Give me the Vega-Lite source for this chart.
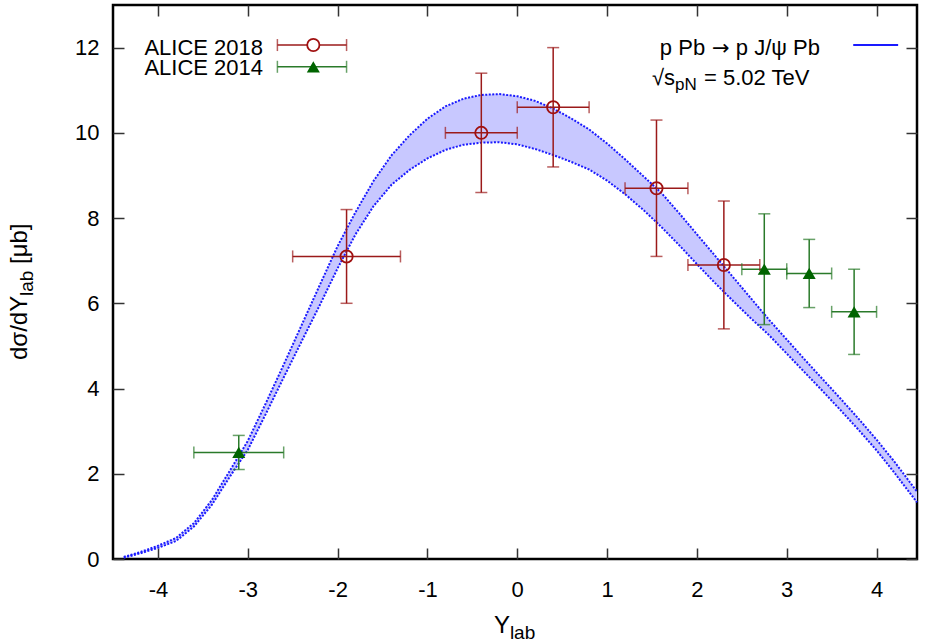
{
  "$schema": "https://vega.github.io/schema/vega-lite/v6.json",
  "width": 804,
  "height": 554,
  "autosize": "none",
  "padding": {"left": 113, "top": 5, "right": 8, "bottom": 85},
  "background": "white",
  "config": {
    "view": {"stroke": "black", "strokeWidth": 2.5},
    "font": "Liberation Sans",
    "text": {"font": "Liberation Sans", "color": "black"}
  },
  "datasets": {
    "band": [
      {"x": -4.38, "lo": 0.03, "hi": 0.05},
      {"x": -4.2, "lo": 0.13, "hi": 0.16},
      {"x": -4.0, "lo": 0.26, "hi": 0.31},
      {"x": -3.8, "lo": 0.42, "hi": 0.49},
      {"x": -3.6, "lo": 0.76, "hi": 0.84},
      {"x": -3.4, "lo": 1.27, "hi": 1.38},
      {"x": -3.2, "lo": 1.93, "hi": 2.07},
      {"x": -3.0, "lo": 2.56, "hi": 2.77},
      {"x": -2.8, "lo": 3.40, "hi": 3.65},
      {"x": -2.6, "lo": 4.26, "hi": 4.56},
      {"x": -2.4, "lo": 5.11, "hi": 5.49},
      {"x": -2.2, "lo": 5.95, "hi": 6.42},
      {"x": -2.0, "lo": 6.82, "hi": 7.34},
      {"x": -1.8, "lo": 7.62, "hi": 8.14},
      {"x": -1.6, "lo": 8.28, "hi": 8.87},
      {"x": -1.4, "lo": 8.78, "hi": 9.47},
      {"x": -1.2, "lo": 9.13, "hi": 9.94},
      {"x": -1.0, "lo": 9.40, "hi": 10.33},
      {"x": -0.8, "lo": 9.60, "hi": 10.62},
      {"x": -0.6, "lo": 9.72, "hi": 10.80},
      {"x": -0.4, "lo": 9.77, "hi": 10.89},
      {"x": -0.2, "lo": 9.78, "hi": 10.91},
      {"x": 0.0, "lo": 9.73, "hi": 10.86},
      {"x": 0.2, "lo": 9.62, "hi": 10.75},
      {"x": 0.4, "lo": 9.48, "hi": 10.57},
      {"x": 0.6, "lo": 9.32, "hi": 10.34},
      {"x": 0.8, "lo": 9.14, "hi": 10.08},
      {"x": 1.0, "lo": 8.88, "hi": 9.75},
      {"x": 1.2, "lo": 8.56, "hi": 9.38},
      {"x": 1.4, "lo": 8.20, "hi": 8.99},
      {"x": 1.6, "lo": 7.80, "hi": 8.60},
      {"x": 1.8, "lo": 7.37, "hi": 8.12},
      {"x": 2.0, "lo": 6.92, "hi": 7.62},
      {"x": 2.2, "lo": 6.48, "hi": 7.12},
      {"x": 2.4, "lo": 6.06, "hi": 6.62},
      {"x": 2.6, "lo": 5.65, "hi": 6.12},
      {"x": 2.8, "lo": 5.26, "hi": 5.62},
      {"x": 3.0, "lo": 4.82, "hi": 5.15},
      {"x": 3.2, "lo": 4.38, "hi": 4.68},
      {"x": 3.4, "lo": 3.94, "hi": 4.22},
      {"x": 3.6, "lo": 3.49, "hi": 3.76},
      {"x": 3.8, "lo": 3.03, "hi": 3.29},
      {"x": 4.0, "lo": 2.55, "hi": 2.80},
      {"x": 4.2, "lo": 2.02, "hi": 2.28},
      {"x": 4.45, "lo": 1.33, "hi": 1.58}
    ],
    "pts": [
      {"set": "ALICE 2018", "x": -1.9, "xlo": -2.5, "xhi": -1.3, "y": 7.1, "ylo": 6.0, "yhi": 8.2},
      {"set": "ALICE 2018", "x": -0.4, "xlo": -0.8, "xhi": 0.0, "y": 10.0, "ylo": 8.6, "yhi": 11.4},
      {"set": "ALICE 2018", "x": 0.4, "xlo": 0.0, "xhi": 0.8, "y": 10.6, "ylo": 9.2, "yhi": 12.0},
      {"set": "ALICE 2018", "x": 1.55, "xlo": 1.2, "xhi": 1.9, "y": 8.7, "ylo": 7.1, "yhi": 10.3},
      {"set": "ALICE 2018", "x": 2.3, "xlo": 1.9, "xhi": 2.7, "y": 6.9, "ylo": 5.4, "yhi": 8.4},
      {"set": "ALICE 2014", "x": -3.1, "xlo": -3.6, "xhi": -2.6, "y": 2.5, "ylo": 2.1, "yhi": 2.9},
      {"set": "ALICE 2014", "x": 2.75, "xlo": 2.5, "xhi": 3.0, "y": 6.8, "ylo": 5.5, "yhi": 8.1},
      {"set": "ALICE 2014", "x": 3.25, "xlo": 3.0, "xhi": 3.5, "y": 6.7, "ylo": 5.9, "yhi": 7.5},
      {"set": "ALICE 2014", "x": 3.75, "xlo": 3.5, "xhi": 4.0, "y": 5.8, "ylo": 4.8, "yhi": 6.8}
    ]
  },
  "resolve": {"axis": {"x": "independent", "y": "independent"}},
  "layer": [
    {
      "data": {"name": "band"},
      "mark": {"type": "area", "color": "#c8c8ff", "opacity": 1},
      "encoding": {
        "x": {"field": "x", "type": "quantitative",
          "scale": {"domain": [-4.5, 4.45], "nice": false, "zero": false},
          "axis": {"orient": "bottom", "title": null, "values": [-4, -3, -2, -1, 0, 1, 2, 3, 4],
            "domain": false, "grid": false, "tickSize": -11, "tickWidth": 1.5, "tickColor": "#333333",
            "labelPadding": 31, "labelFont": "Liberation Sans", "labelFontSize": 22, "labelColor": "black",
            "labelExpr": "datum.value + ''"}},
        "y": {"field": "lo", "type": "quantitative",
          "scale": {"domain": [0, 13], "nice": false, "zero": false},
          "axis": {"orient": "left", "title": null, "values": [0, 2, 4, 6, 8, 10, 12],
            "domain": false, "grid": false, "tickSize": -11, "tickWidth": 1.5, "tickColor": "#333333",
            "labelPadding": 25, "labelFont": "Liberation Sans", "labelFontSize": 22, "labelColor": "black"}},
        "y2": {"field": "hi"}
      }
    },
    {
      "data": {"name": "band"},
      "mark": {"type": "line", "color": "#1a1aff", "strokeWidth": 2, "strokeDash": [2, 1.5]},
      "encoding": {
        "x": {"field": "x", "type": "quantitative", "scale": {"domain": [-4.5, 4.45], "nice": false, "zero": false}, "axis": null},
        "y": {"field": "lo", "type": "quantitative", "scale": {"domain": [0, 13], "nice": false, "zero": false}, "axis": null}
      }
    },
    {
      "data": {"name": "band"},
      "mark": {"type": "line", "color": "#1a1aff", "strokeWidth": 2, "strokeDash": [2, 1.5]},
      "encoding": {
        "x": {"field": "x", "type": "quantitative",
          "scale": {"domain": [-4.5, 4.45], "nice": false, "zero": false},
          "axis": {"orient": "top", "title": null, "values": [-4, -3, -2, -1, 0, 1, 2, 3, 4],
            "domain": false, "grid": false, "labels": false, "tickSize": -11, "tickWidth": 1.5, "tickColor": "#333333"}},
        "y": {"field": "hi", "type": "quantitative",
          "scale": {"domain": [0, 13], "nice": false, "zero": false},
          "axis": {"orient": "right", "title": null, "values": [0, 2, 4, 6, 8, 10, 12],
            "domain": false, "grid": false, "labels": false, "tickSize": -11, "tickWidth": 1.5, "tickColor": "#333333"}}
      }
    },
    {
      "data": {"name": "pts"},
      "mark": {"type": "rule", "strokeWidth": 1.5},
      "encoding": {
        "x": {"field": "x", "type": "quantitative", "scale": {"domain": [-4.5, 4.45], "nice": false, "zero": false}, "axis": null},
        "y": {"field": "ylo", "type": "quantitative", "scale": {"domain": [0, 13], "nice": false, "zero": false}, "axis": null},
        "y2": {"field": "yhi"},
        "color": {"field": "set", "type": "nominal", "scale": {"domain": ["ALICE 2018", "ALICE 2014"], "range": ["#9b1a1a", "#2a7a2a"]}, "legend": null}
      }
    },
    {
      "data": {"name": "pts"},
      "mark": {"type": "rule", "strokeWidth": 1.5},
      "encoding": {
        "y": {"field": "y", "type": "quantitative", "scale": {"domain": [0, 13], "nice": false, "zero": false}, "axis": null},
        "x": {"field": "xlo", "type": "quantitative", "scale": {"domain": [-4.5, 4.45], "nice": false, "zero": false}, "axis": null},
        "x2": {"field": "xhi"},
        "color": {"field": "set", "type": "nominal", "scale": {"domain": ["ALICE 2018", "ALICE 2014"], "range": ["#9b1a1a", "#2a7a2a"]}, "legend": null}
      }
    },
    {
      "data": {"name": "pts"},
      "mark": {"type": "tick", "orient": "vertical", "size": 12, "thickness": 1.5},
      "encoding": {
        "x": {"field": "xlo", "type": "quantitative", "scale": {"domain": [-4.5, 4.45], "nice": false, "zero": false}, "axis": null},
        "y": {"field": "y", "type": "quantitative", "scale": {"domain": [0, 13], "nice": false, "zero": false}, "axis": null},
        "color": {"field": "set", "type": "nominal", "scale": {"domain": ["ALICE 2018", "ALICE 2014"], "range": ["#9b1a1a", "#2a7a2a"]}, "legend": null}
      }
    },
    {
      "data": {"name": "pts"},
      "mark": {"type": "tick", "orient": "vertical", "size": 12, "thickness": 1.5},
      "encoding": {
        "x": {"field": "xhi", "type": "quantitative", "scale": {"domain": [-4.5, 4.45], "nice": false, "zero": false}, "axis": null},
        "y": {"field": "y", "type": "quantitative", "scale": {"domain": [0, 13], "nice": false, "zero": false}, "axis": null},
        "color": {"field": "set", "type": "nominal", "scale": {"domain": ["ALICE 2018", "ALICE 2014"], "range": ["#9b1a1a", "#2a7a2a"]}, "legend": null}
      }
    },
    {
      "data": {"name": "pts"},
      "mark": {"type": "tick", "orient": "horizontal", "size": 12, "thickness": 1.5},
      "encoding": {
        "x": {"field": "x", "type": "quantitative", "scale": {"domain": [-4.5, 4.45], "nice": false, "zero": false}, "axis": null},
        "y": {"field": "ylo", "type": "quantitative", "scale": {"domain": [0, 13], "nice": false, "zero": false}, "axis": null},
        "color": {"field": "set", "type": "nominal", "scale": {"domain": ["ALICE 2018", "ALICE 2014"], "range": ["#9b1a1a", "#2a7a2a"]}, "legend": null}
      }
    },
    {
      "data": {"name": "pts"},
      "mark": {"type": "tick", "orient": "horizontal", "size": 12, "thickness": 1.5},
      "encoding": {
        "x": {"field": "x", "type": "quantitative", "scale": {"domain": [-4.5, 4.45], "nice": false, "zero": false}, "axis": null},
        "y": {"field": "yhi", "type": "quantitative", "scale": {"domain": [0, 13], "nice": false, "zero": false}, "axis": null},
        "color": {"field": "set", "type": "nominal", "scale": {"domain": ["ALICE 2018", "ALICE 2014"], "range": ["#9b1a1a", "#2a7a2a"]}, "legend": null}
      }
    },
    {
      "data": {"name": "pts"},
      "transform": [{"filter": {"field": "set", "equal": "ALICE 2018"}}],
      "mark": {"type": "point", "shape": "circle", "filled": false, "stroke": "#a01010", "strokeWidth": 1.8, "size": 150, "opacity": 1},
      "encoding": {
        "x": {"field": "x", "type": "quantitative", "scale": {"domain": [-4.5, 4.45], "nice": false, "zero": false}, "axis": null},
        "y": {"field": "y", "type": "quantitative", "scale": {"domain": [0, 13], "nice": false, "zero": false}, "axis": null}
      }
    },
    {
      "data": {"name": "pts"},
      "transform": [{"filter": {"field": "set", "equal": "ALICE 2014"}}],
      "mark": {"type": "point", "shape": "triangle-up", "filled": true, "color": "#006400", "size": 170, "opacity": 1},
      "encoding": {
        "x": {"field": "x", "type": "quantitative", "scale": {"domain": [-4.5, 4.45], "nice": false, "zero": false}, "axis": null},
        "y": {"field": "y", "type": "quantitative", "scale": {"domain": [0, 13], "nice": false, "zero": false}, "axis": null}
      }
    },
    {
      "data": {"values": [{"label": "ALICE 2018"}]},
      "layer": [
        {"mark": {"type": "text", "align": "right", "baseline": "alphabetic", "fontSize": 22, "font": "Liberation Sans"},
         "encoding": {"x": {"datum": -2.83, "type": "quantitative", "scale": {"domain": [-4.5, 4.45], "nice": false, "zero": false}, "axis": null},
           "y": {"datum": 11.83, "type": "quantitative", "scale": {"domain": [0, 13], "nice": false, "zero": false}, "axis": null},
           "text": {"field": "label"}}},
        {"mark": {"type": "rule", "color": "#9b1a1a", "strokeWidth": 1.5},
         "encoding": {"x": {"datum": -2.67, "type": "quantitative", "scale": {"domain": [-4.5, 4.45], "nice": false, "zero": false}, "axis": null},
           "x2": {"datum": -1.9},
           "y": {"datum": 12.06, "type": "quantitative", "scale": {"domain": [0, 13], "nice": false, "zero": false}, "axis": null}}},
        {"mark": {"type": "tick", "orient": "vertical", "size": 12, "thickness": 1.5, "color": "#9b1a1a"},
         "encoding": {"x": {"datum": -2.67, "type": "quantitative", "scale": {"domain": [-4.5, 4.45], "nice": false, "zero": false}, "axis": null},
           "y": {"datum": 12.06, "type": "quantitative", "scale": {"domain": [0, 13], "nice": false, "zero": false}, "axis": null}}},
        {"mark": {"type": "tick", "orient": "vertical", "size": 12, "thickness": 1.5, "color": "#9b1a1a"},
         "encoding": {"x": {"datum": -1.9, "type": "quantitative", "scale": {"domain": [-4.5, 4.45], "nice": false, "zero": false}, "axis": null},
           "y": {"datum": 12.06, "type": "quantitative", "scale": {"domain": [0, 13], "nice": false, "zero": false}, "axis": null}}},
        {"mark": {"type": "point", "shape": "circle", "filled": true, "fill": "white", "stroke": "#a01010", "strokeWidth": 1.8, "size": 150, "opacity": 1},
         "encoding": {"x": {"datum": -2.27, "type": "quantitative", "scale": {"domain": [-4.5, 4.45], "nice": false, "zero": false}, "axis": null},
           "y": {"datum": 12.06, "type": "quantitative", "scale": {"domain": [0, 13], "nice": false, "zero": false}, "axis": null}}}
      ]
    },
    {
      "data": {"values": [{"label": "ALICE 2014"}]},
      "layer": [
        {"mark": {"type": "text", "align": "right", "baseline": "alphabetic", "fontSize": 22, "font": "Liberation Sans"},
         "encoding": {"x": {"datum": -2.83, "type": "quantitative", "scale": {"domain": [-4.5, 4.45], "nice": false, "zero": false}, "axis": null},
           "y": {"datum": 11.36, "type": "quantitative", "scale": {"domain": [0, 13], "nice": false, "zero": false}, "axis": null},
           "text": {"field": "label"}}},
        {"mark": {"type": "rule", "color": "#2a7a2a", "strokeWidth": 1.5},
         "encoding": {"x": {"datum": -2.67, "type": "quantitative", "scale": {"domain": [-4.5, 4.45], "nice": false, "zero": false}, "axis": null},
           "x2": {"datum": -1.9},
           "y": {"datum": 11.55, "type": "quantitative", "scale": {"domain": [0, 13], "nice": false, "zero": false}, "axis": null}}},
        {"mark": {"type": "tick", "orient": "vertical", "size": 12, "thickness": 1.5, "color": "#2a7a2a"},
         "encoding": {"x": {"datum": -2.67, "type": "quantitative", "scale": {"domain": [-4.5, 4.45], "nice": false, "zero": false}, "axis": null},
           "y": {"datum": 11.55, "type": "quantitative", "scale": {"domain": [0, 13], "nice": false, "zero": false}, "axis": null}}},
        {"mark": {"type": "tick", "orient": "vertical", "size": 12, "thickness": 1.5, "color": "#2a7a2a"},
         "encoding": {"x": {"datum": -1.9, "type": "quantitative", "scale": {"domain": [-4.5, 4.45], "nice": false, "zero": false}, "axis": null},
           "y": {"datum": 11.55, "type": "quantitative", "scale": {"domain": [0, 13], "nice": false, "zero": false}, "axis": null}}},
        {"mark": {"type": "point", "shape": "triangle-up", "filled": true, "color": "#006400", "size": 170, "opacity": 1},
         "encoding": {"x": {"datum": -2.27, "type": "quantitative", "scale": {"domain": [-4.5, 4.45], "nice": false, "zero": false}, "axis": null},
           "y": {"datum": 11.55, "type": "quantitative", "scale": {"domain": [0, 13], "nice": false, "zero": false}, "axis": null}}}
      ]
    },
    {
      "data": {"values": [{"a": "p Pb", "b": "→", "c": "p J/ψ Pb"}]},
      "layer": [
        {"mark": {"type": "text", "align": "left", "baseline": "alphabetic", "fontSize": 22, "font": "Liberation Sans", "dx": -170},
         "encoding": {"x": {"datum": 3.48, "type": "quantitative", "scale": {"domain": [-4.5, 4.45], "nice": false, "zero": false}, "axis": null},
           "y": {"datum": 11.83, "type": "quantitative", "scale": {"domain": [0, 13], "nice": false, "zero": false}, "axis": null},
           "text": {"field": "a"}}},
        {"mark": {"type": "text", "align": "center", "baseline": "alphabetic", "fontSize": 21, "font": "DejaVu Sans", "dx": -109},
         "encoding": {"x": {"datum": 3.48, "type": "quantitative", "scale": {"domain": [-4.5, 4.45], "nice": false, "zero": false}, "axis": null},
           "y": {"datum": 11.83, "type": "quantitative", "scale": {"domain": [0, 13], "nice": false, "zero": false}, "axis": null},
           "text": {"field": "b"}}},
        {"mark": {"type": "text", "align": "left", "baseline": "alphabetic", "fontSize": 22, "font": "Liberation Sans", "dx": -94},
         "encoding": {"x": {"datum": 3.48, "type": "quantitative", "scale": {"domain": [-4.5, 4.45], "nice": false, "zero": false}, "axis": null},
           "y": {"datum": 11.83, "type": "quantitative", "scale": {"domain": [0, 13], "nice": false, "zero": false}, "axis": null},
           "text": {"field": "c"}}},
        {"mark": {"type": "rule", "color": "#1a1aff", "strokeWidth": 2},
         "encoding": {"x": {"datum": 3.74, "type": "quantitative", "scale": {"domain": [-4.5, 4.45], "nice": false, "zero": false}, "axis": null},
           "x2": {"datum": 4.24},
           "y": {"datum": 12.06, "type": "quantitative", "scale": {"domain": [0, 13], "nice": false, "zero": false}, "axis": null}}}
      ]
    },
    {
      "data": {"values": [{"a": "√s", "b": "pN", "c": "= 5.02 TeV"}]},
      "layer": [
        {"mark": {"type": "text", "align": "left", "baseline": "alphabetic", "fontSize": 22, "font": "Liberation Sans"},
         "encoding": {"x": {"datum": 1.5, "type": "quantitative", "scale": {"domain": [-4.5, 4.45], "nice": false, "zero": false}, "axis": null},
           "y": {"datum": 11.12, "type": "quantitative", "scale": {"domain": [0, 13], "nice": false, "zero": false}, "axis": null},
           "text": {"field": "a"}}},
        {"mark": {"type": "text", "align": "left", "baseline": "alphabetic", "fontSize": 17, "font": "Liberation Sans", "dx": 23, "dy": 5},
         "encoding": {"x": {"datum": 1.5, "type": "quantitative", "scale": {"domain": [-4.5, 4.45], "nice": false, "zero": false}, "axis": null},
           "y": {"datum": 11.12, "type": "quantitative", "scale": {"domain": [0, 13], "nice": false, "zero": false}, "axis": null},
           "text": {"field": "b"}}},
        {"mark": {"type": "text", "align": "left", "baseline": "alphabetic", "fontSize": 22, "font": "Liberation Sans", "dx": 52},
         "encoding": {"x": {"datum": 1.5, "type": "quantitative", "scale": {"domain": [-4.5, 4.45], "nice": false, "zero": false}, "axis": null},
           "y": {"datum": 11.12, "type": "quantitative", "scale": {"domain": [0, 13], "nice": false, "zero": false}, "axis": null},
           "text": {"field": "c"}}}
      ]
    },
    {
      "data": {"values": [{"a": "dσ/dY", "b": "lab", "c": "[μb]"}]},
      "layer": [
        {"mark": {"type": "text", "align": "left", "baseline": "alphabetic", "fontSize": 24, "font": "Liberation Sans", "angle": 270, "dy": -86},
         "encoding": {"x": {"datum": -4.5, "type": "quantitative", "scale": {"domain": [-4.5, 4.45], "nice": false, "zero": false}, "axis": null},
           "y": {"datum": 4.67, "type": "quantitative", "scale": {"domain": [0, 13], "nice": false, "zero": false}, "axis": null},
           "text": {"field": "a"}}},
        {"mark": {"type": "text", "align": "left", "baseline": "alphabetic", "fontSize": 19, "font": "Liberation Sans", "angle": 270, "dx": 64, "dy": -80},
         "encoding": {"x": {"datum": -4.5, "type": "quantitative", "scale": {"domain": [-4.5, 4.45], "nice": false, "zero": false}, "axis": null},
           "y": {"datum": 4.67, "type": "quantitative", "scale": {"domain": [0, 13], "nice": false, "zero": false}, "axis": null},
           "text": {"field": "b"}}},
        {"mark": {"type": "text", "align": "left", "baseline": "alphabetic", "fontSize": 24, "font": "Liberation Sans", "angle": 270, "dx": 96, "dy": -86},
         "encoding": {"x": {"datum": -4.5, "type": "quantitative", "scale": {"domain": [-4.5, 4.45], "nice": false, "zero": false}, "axis": null},
           "y": {"datum": 4.67, "type": "quantitative", "scale": {"domain": [0, 13], "nice": false, "zero": false}, "axis": null},
           "text": {"field": "c"}}}
      ]
    },
    {
      "data": {"values": [{"a": "Y", "b": "lab"}]},
      "layer": [
        {"mark": {"type": "text", "align": "left", "baseline": "alphabetic", "fontSize": 24, "font": "Liberation Sans", "dy": 74},
         "encoding": {"x": {"datum": -0.26, "type": "quantitative", "scale": {"domain": [-4.5, 4.45], "nice": false, "zero": false}, "axis": null},
           "y": {"datum": 0, "type": "quantitative", "scale": {"domain": [0, 13], "nice": false, "zero": false}, "axis": null},
           "text": {"field": "a"}}},
        {"mark": {"type": "text", "align": "left", "baseline": "alphabetic", "fontSize": 19, "font": "Liberation Sans", "dx": 16, "dy": 80},
         "encoding": {"x": {"datum": -0.26, "type": "quantitative", "scale": {"domain": [-4.5, 4.45], "nice": false, "zero": false}, "axis": null},
           "y": {"datum": 0, "type": "quantitative", "scale": {"domain": [0, 13], "nice": false, "zero": false}, "axis": null},
           "text": {"field": "b"}}}
      ]
    }
  ]
}
